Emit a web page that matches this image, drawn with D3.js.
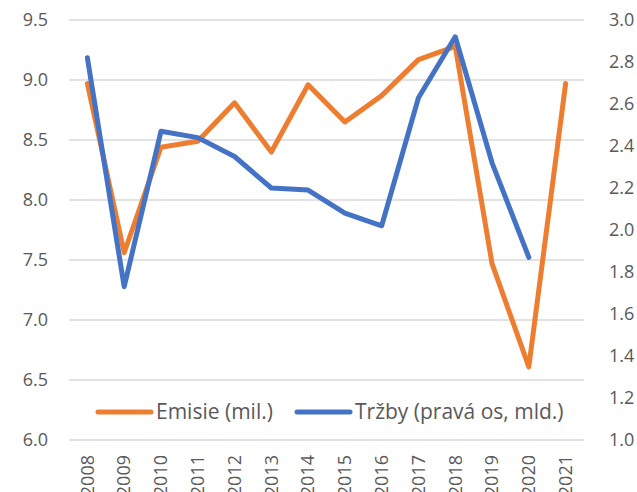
<!DOCTYPE html>
<html>
<head>
<meta charset="utf-8">
<script src="https://cdn.jsdelivr.net/npm/d3@7"></script>
<style>
    body { margin: 0; background: #fff; }
    text { font-family: "Open Sans", "Noto Sans", sans-serif; fill: #595959; }
</style>
</head>
<body>
<div id="chart"></div>
<script>
var years = ["2008","2009","2010","2011","2012","2013","2014","2015","2016","2017","2018","2019","2020","2021"];
var emisie = [8.97, 7.56, 8.44, 8.49, 8.81, 8.40, 8.96, 8.65, 8.87, 9.17, 9.28, 7.47, 6.61, 8.97];
var trzby = [2.82, 1.73, 2.47, 2.44, 2.35, 2.20, 2.19, 2.08, 2.02, 2.63, 2.92, 2.32, 1.87, null];
var leftTicks = [6.0, 6.5, 7.0, 7.5, 8.0, 8.5, 9.0, 9.5];
var rightTicks = [1.0, 1.2, 1.4, 1.6, 1.8, 2.0, 2.2, 2.4, 2.6, 2.8, 3.0];

var width = 637, height = 492;
var margin = {top: 20, left: 69, right: 53, bottom: 52};

var svg = d3.select("#chart")
    .append("svg")
    .attr("width", width)
    .attr("height", height);

var xScale = d3.scaleBand()
    .domain(years)
    .range([margin.left, width - margin.right]);

var yLeft = d3.scaleLinear()
    .domain([6.0, 9.5])
    .range([height - margin.bottom, margin.top]);

var yRight = d3.scaleLinear()
    .domain([1.0, 3.0])
    .range([height - margin.bottom, margin.top]);

// gridlines
svg.append("g")
    .selectAll("line")
    .data(leftTicks)
    .enter()
    .append("line")
        .attr("x1", margin.left)
        .attr("x2", width - margin.right)
        .attr("y1", function(d) { return yLeft(d); })
        .attr("y2", function(d) { return yLeft(d); })
        .attr("stroke", "#d9d9d9")
        .attr("stroke-width", 1.5);

// left axis
var leftAxis = svg.append("g")
    .attr("transform", `translate(${margin.left - 21},0)`)
    .call(d3.axisLeft(yLeft).tickValues(leftTicks).tickFormat(d3.format(".1f")).tickSize(0).tickPadding(0));
leftAxis.select(".domain").remove();
leftAxis.selectAll("text").style("font-size", "18px").attr("fill", "#595959");

// right axis
var rightAxis = svg.append("g")
    .attr("transform", `translate(${width - margin.right + 25},0)`)
    .call(d3.axisRight(yRight).tickValues(rightTicks).tickFormat(d3.format(".1f")).tickSize(0).tickPadding(0));
rightAxis.select(".domain").remove();
rightAxis.selectAll("text").style("font-size", "18px").attr("fill", "#595959");

// x axis (labels run off the bottom edge, as in the original)
var xAxis = svg.append("g")
    .attr("transform", `translate(0,${height - margin.bottom})`)
    .call(d3.axisBottom(xScale).tickSize(0).tickPadding(0));
xAxis.select(".domain").remove();
xAxis.selectAll("text")
    .style("font-size", "18px")
    .attr("fill", "#595959")
    .attr("text-anchor", "end")
    .attr("dy", "0.35em")
    .attr("transform", "translate(0,15) rotate(-90)")
    .attr("x", 0)
    .attr("y", 0);

var xPos = function(d, i) { return xScale(years[i]) + xScale.bandwidth() / 2; };

var emisieLine = d3.line()
    .x(xPos)
    .y(function(d) { return yLeft(d); });

var trzbyLine = d3.line()
    .defined(function(d) { return d !== null; })
    .x(xPos)
    .y(function(d) { return yRight(d); });

svg.append("path")
    .datum(emisie)
    .attr("d", emisieLine)
    .attr("fill", "none")
    .attr("stroke", "#ED7D31")
    .attr("stroke-width", 5)
    .attr("stroke-linejoin", "round")
    .attr("stroke-linecap", "round");

svg.append("path")
    .datum(trzby)
    .attr("d", trzbyLine)
    .attr("fill", "none")
    .attr("stroke", "#4472C4")
    .attr("stroke-width", 5)
    .attr("stroke-linejoin", "round")
    .attr("stroke-linecap", "round");

// legend
var legendY = 412;
var legend = [
    {name: "Emisie (mil.)", color: "#ED7D31", x: 98},
    {name: "Tržby (pravá os, mld.)", color: "#4472C4", x: 297}
];
var lg = svg.append("g")
    .selectAll("g")
    .data(legend)
    .enter()
    .append("g");
lg.append("line")
    .attr("x1", function(d) { return d.x; })
    .attr("x2", function(d) { return d.x + 53; })
    .attr("y1", legendY)
    .attr("y2", legendY)
    .attr("stroke", function(d) { return d.color; })
    .attr("stroke-width", 5)
    .attr("stroke-linecap", "round");
lg.append("text")
    .attr("x", function(d) { return d.x + 58; })
    .attr("y", legendY)
    .attr("dy", "0.35em")
    .style("font-size", "21px")
    .text(function(d) { return d.name; });
</script>
</body>
</html>
